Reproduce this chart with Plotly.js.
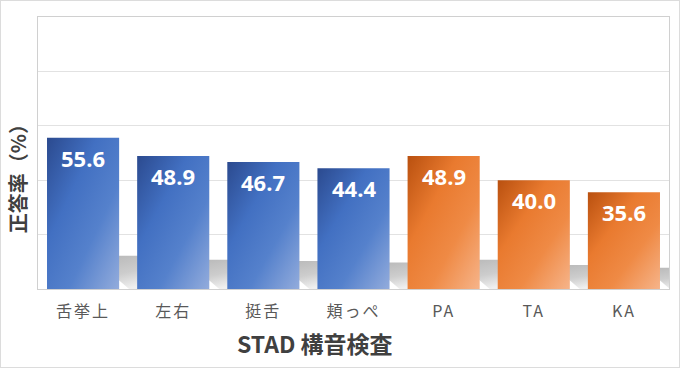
<!DOCTYPE html>
<html><head><meta charset="utf-8">
<script src="https://cdn.plot.ly/plotly-3.0.1.min.js"></script>
<style>
html,body{margin:0;padding:0;background:#fff;}
#wrap{position:relative;width:690px;height:369px;overflow:hidden;}
#chart{width:690px;height:369px;}
#frame{position:absolute;left:0;top:0;width:678px;height:366px;border:1px solid #dcdcdc;pointer-events:none;}
</style></head><body>
<div id="wrap"><div id="chart"></div><div id="frame"></div></div>
<script>
// ---- data ----
const categories = ['舌挙上', '左右', '挺舌', '頬っぺ', 'PA', 'TA', 'KA'];
const values = [55.6, 48.9, 46.7, 44.4, 48.9, 40.0, 35.6];
const yTickValues = [0, 20, 40, 60, 80, 100];
const xTitle = 'STAD 構音検査';
const yTitle = '正答率（%）';

// ---- styles ----
const groupOf = i => (i < 4 ? 'blue' : 'orange');
const baseColors = {blue: '#4472c4', orange: '#ed7d31'};

const gd = document.getElementById('chart');
const data = [{
  type: 'bar',
  x: categories,
  y: values,
  marker: {color: categories.map((c, i) => baseColors[groupOf(i)]), line: {width: 0}},
  hoverinfo: 'none'
}];

const layout = {
  width: 690, height: 369,
  margin: {l: 38, r: 21, t: 17, b: 80},
  paper_bgcolor: '#fff', plot_bgcolor: '#fff',
  bargap: 0.2,
  showlegend: false,
  xaxis: {
    type: 'category', showline: true, linecolor: '#d0d0d0', linewidth: 1, mirror: true,
    showgrid: false, ticks: '', ticklabelstandoff: 8,
    tickfont: {family: 'Noto Sans CJK JP', size: 16, color: '#595959'}
  },
  yaxis: {
    range: [0, 100], tickvals: yTickValues, showticklabels: false, ticks: '',
    showgrid: true, gridcolor: '#e2e2e2', gridwidth: 1, zeroline: false,
    showline: true, linecolor: '#d0d0d0', linewidth: 1, mirror: true
  },
  annotations: categories.map((c, i) => ({
    x: c, y: values[i], xref: 'x', yref: 'y', text: values[i].toFixed(1),
    showarrow: false, yanchor: 'top', yshift: -3,
    font: {family: 'Open Sans', size: 22, color: '#ffffff', weight: 'bold'}
  })).concat([
    {xref: 'paper', yref: 'paper', x: 0.439, y: -0.2, xanchor: 'center', yanchor: 'middle',
     text: '<b>' + xTitle + '</b>', showarrow: false,
     font: {family: 'Noto Sans CJK JP', size: 23, color: '#404040'}},
    {xref: 'paper', yref: 'paper', x: -0.032, y: 0.425, xanchor: 'center', yanchor: 'middle',
     text: '<b>' + yTitle + '</b>', showarrow: false, textangle: -90,
     font: {family: 'Noto Sans CJK JP', size: 20, color: '#404040'}}
  ])
};

Plotly.newPlot(gd, data, layout, {staticPlot: true, displayModeBar: false}).then(decorate);

function decorate() {
  const NS = 'http://www.w3.org/2000/svg';
  const svg = gd.querySelector('.main-svg');
  let defs = svg.querySelector('defs');
  if (!defs) { defs = document.createElementNS(NS, 'defs'); svg.insertBefore(defs, svg.firstChild); }
  function grad(id, stops, x2, y2) {
    const g = document.createElementNS(NS, 'linearGradient');
    g.setAttribute('id', id);
    g.setAttribute('x1', '0'); g.setAttribute('y1', '0');
    g.setAttribute('x2', x2); g.setAttribute('y2', y2);
    stops.forEach(([o, c]) => {
      const s = document.createElementNS(NS, 'stop');
      s.setAttribute('offset', o); s.setAttribute('stop-color', c);
      g.appendChild(s);
    });
    defs.appendChild(g);
  }
  grad('gblue', [[0, '#2b4a8f'], [0.35, '#4270c2'], [0.65, '#5581cc'], [1, '#93acdc']], '1', '1');
  grad('gorange', [[0, '#b9500f'], [0.35, '#e97a2f'], [0.65, '#ef8a45'], [1, '#f6b48a']], '1', '1');
  grad('gshadow', [[0, '#bababa'], [0.55, '#cdcdcd'], [1, '#efefef']], '0.3', '1');

  const layer = gd.querySelector('.barlayer');
  const sg = document.createElementNS(NS, 'g');
  layer.insertBefore(sg, layer.firstChild);
  const paths = gd.querySelectorAll('.barlayer .trace .point path');
  paths.forEach((p, i) => {
    const b = p.getBBox();
    const xr = b.x + b.width, yb = b.y + b.height;
    const hs = 0.22 * b.height;
    const pts = [[xr - 4, yb - hs], [xr + 34, yb - hs], [xr + 34, yb], [xr + 10, yb], [xr - 4, yb - 12]];
    const poly = document.createElementNS(NS, 'polygon');
    poly.setAttribute('points', pts.map(q => q.join(',')).join(' '));
    poly.setAttribute('fill', 'url(#gshadow)');
    sg.appendChild(poly);
    p.style.fill = 'url(#g' + groupOf(i) + ')';
    p.style.fillOpacity = '1';
  });
  gd.querySelectorAll('.xtick text').forEach(t => { t.style.letterSpacing = '2px'; });
}
</script>
</body></html>
